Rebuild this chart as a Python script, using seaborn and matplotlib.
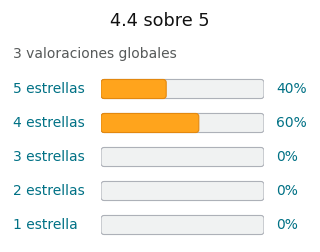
import matplotlib
matplotlib.use("Agg")
import matplotlib.pyplot as plt
from matplotlib.patches import FancyBboxPatch
import seaborn as sns
import pandas as pd

title = "4.4 sobre 5"
subtitle = "3 valoraciones globales"
categories = ["5 estrellas", "4 estrellas", "3 estrellas", "2 estrellas", "1 estrella"]
percents = [40, 60, 0, 0, 0]
pct_labels = ["40%", "60%", "0%", "0%", "0%"]

sns.set_style("white")
plt.rcParams['font.family'] = ['DejaVu Sans']

teal = "#007185"
df = pd.DataFrame({"cat": categories, "pct": percents, "full": [100] * len(categories)})

fig = plt.figure(figsize=(3.2, 2.52), dpi=100)
ax = fig.add_axes([101 / 320, 10 / 252, 163 / 320, 170 / 252])

sns.barplot(data=df, y="cat", x="full", orient="h", color="#F0F2F2", width=0.56, ax=ax)
n_bg = len(ax.patches)
sns.barplot(data=df, y="cat", x="pct", orient="h", color="#FFA41C", width=0.56, ax=ax)

ax.set_xlim(0, 100)
ax.set_ylim(len(categories) - 0.5, -0.5)

# px per unit
px_x = 163 / 100
px_y = 170 / len(categories)
r_px = 3.0
r_x = r_px / px_x
aspect = (r_px / px_y) / r_x

patches = list(ax.patches)
for i, p in enumerate(patches):
    x, y, w, h = p.get_x(), p.get_y(), p.get_width(), p.get_height()
    p.set_visible(False)
    if w <= 0:
        continue
    if i < n_bg:
        fc, ec = "#F0F2F2", "#ADB1B8"
    else:
        fc, ec = "#FFA41C", "#E3880F"
    fb = FancyBboxPatch((x, y), w, h,
                        boxstyle=f"round,pad=0,rounding_size={r_x}",
                        mutation_aspect=aspect,
                        facecolor=fc, edgecolor=ec, linewidth=0.8, zorder=2 + (i >= n_bg))
    ax.add_patch(fb)

ax.set_axis_off()

fig.text(0.5, 1 - 21 / 252, title, ha="center", va="center", fontsize=12.7, color="#111111")
fig.text(13 / 320, 1 - 54 / 252, subtitle, ha="left", va="center", fontsize=10, color="#565959")

ys = [89, 123, 157, 191, 225]
for cat, lab, yp in zip(categories, pct_labels, ys):
    fig.text(13 / 320, 1 - yp / 252, cat, ha="left", va="center", fontsize=10, color=teal)
    fig.text(276 / 320, 1 - yp / 252, lab, ha="left", va="center", fontsize=10, color=teal)

fig.savefig("out.png", dpi=100, facecolor="white")
